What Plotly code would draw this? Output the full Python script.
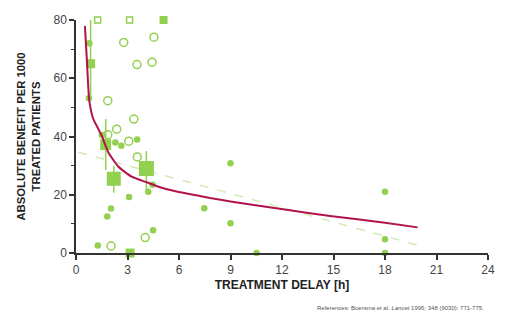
import plotly.graph_objects as go

# ---- data (hours, absolute benefit per 1000) ----
filled_x = [0.78, 0.75, 1.50, 2.29, 2.64, 3.56, 4.46, 4.21, 3.09, 2.04, 1.82, 4.49, 1.27, 7.47, 9.0, 9.0, 10.52, 18.0, 18.0, 18.0]
filled_y = [72.0, 53.1, 40.5, 37.9, 36.8, 39.0, 23.4, 21.0, 19.2, 15.3, 12.5, 7.8, 2.6, 15.4, 30.8, 10.2, 0.0, 21.0, 4.7, 0.0]

open_x = [2.78, 4.54, 3.55, 4.43, 1.85, 3.37, 2.37, 1.85, 3.07, 3.57, 2.04, 4.03]
open_y = [72.3, 74.1, 64.7, 65.5, 52.3, 46.0, 42.5, 40.6, 38.4, 33.0, 2.4, 5.3]

sq_x = [0.85, 1.73, 2.20, 4.10, 3.15, 5.10]
sq_y = [65.0, 37.2, 25.5, 29.0, 0.0, 80.0]
sq_err_plus = [15.0, 8.8, 4.5, 6.0, 0.0, 0.0]
sq_err_minus = [12.0, 8.7, 4.8, 8.3, 0.0, 0.0]
sq_sizes = [9, 11, 14, 15, 9, 8]

open_sq_x = [1.26, 3.12]
open_sq_y = [80.0, 80.0]

curve_x = [0.52, 0.64, 0.77, 1.01, 1.30, 1.50, 1.88, 2.46, 3.24, 4.11, 4.89, 5.86, 7.22, 7.8, 9.0, 12.07, 14.8, 18.0, 19.9]
curve_y = [78.0, 65.5, 52.5, 46.0, 42.6, 40.3, 34.6, 29.7, 26.2, 24.3, 22.6, 21.1, 19.6, 18.9, 17.7, 15.0, 12.7, 10.4, 8.8]

reg_x = [0.13, 7.22, 19.9]
reg_y = [34.6, 23.3, 2.7]

GREEN = "#92d050"
CRIMSON = "#b2124e"

fig = go.Figure()

fig.add_trace(go.Scatter(x=reg_x, y=reg_y, mode="lines",
                         line=dict(color="#d2ebb6", width=1.5, dash="dash"),
                         hoverinfo="skip", cliponaxis=False))

fig.add_trace(go.Scatter(x=open_x, y=open_y, mode="markers",
                         marker=dict(symbol="circle-open", size=8, color=GREEN, opacity=1,
                                     line=dict(width=1.5, color=GREEN)),
                         cliponaxis=False))

fig.add_trace(go.Scatter(x=filled_x, y=filled_y, mode="markers",
                         marker=dict(symbol="circle", size=6.5, color=GREEN, opacity=1),
                         cliponaxis=False))

fig.add_trace(go.Scatter(x=sq_x, y=sq_y, mode="markers",
                         marker=dict(symbol="square", size=sq_sizes, color=GREEN, opacity=1,
                                     line=dict(width=0)),
                         error_y=dict(type="data", array=sq_err_plus, arrayminus=sq_err_minus,
                                      color=GREEN, thickness=1.5, width=0),
                         cliponaxis=False))

fig.add_trace(go.Scatter(x=open_sq_x, y=open_sq_y, mode="markers",
                         marker=dict(symbol="square-open", size=6, color=GREEN, opacity=1,
                                     line=dict(width=1.5, color=GREEN)),
                         cliponaxis=False))

fig.add_trace(go.Scatter(x=curve_x, y=curve_y, mode="lines",
                         line=dict(color=CRIMSON, width=2, shape="spline", smoothing=0.5),
                         cliponaxis=False))

fig.update_layout(
    width=506, height=330,
    margin=dict(l=76, r=18, t=20, b=77),
    paper_bgcolor="white", plot_bgcolor="white",
    showlegend=False,
    font=dict(family="Liberation Sans, Arial, sans-serif", color="#333333", size=12),
    xaxis=dict(range=[0, 24], dtick=3, tick0=0, showgrid=False, zeroline=False,
               showline=True, linecolor="#333333", linewidth=1.5,
               ticks="outside", ticklen=5, tickwidth=1.5, tickcolor="#333333",
               tickfont=dict(size=12, color="#444444"),
               title=dict(text="<b>TREATMENT DELAY [h]</b>", font=dict(size=12, color="#222222"),
                          standoff=4)),
    yaxis=dict(range=[0, 80], dtick=20, tick0=0, showgrid=False, zeroline=False,
               showline=True, linecolor="#333333", linewidth=1.5,
               ticks="outside", ticklen=5, tickwidth=1.5, tickcolor="#333333",
               tickfont=dict(size=12, color="#444444"),
               minor=dict(dtick=10, ticks="outside", ticklen=3, tickwidth=1.2, tickcolor="#333333"),
               title=dict(text="<b>ABSOLUTE BENEFIT PER 1000<br>TREATED PATIENTS</b>",
                          font=dict(size=11.3, color="#222222"), standoff=11)),
    annotations=[dict(text="References: Boersma et al. <i>Lancet</i> 1996; 348 (9030): 771-775.",
                      xref="paper", yref="paper", x=0.995, y=-0.237,
                      xanchor="right", yanchor="middle", showarrow=False,
                      font=dict(size=6, color="#555555"))],
)

fig.write_html("out.html")
